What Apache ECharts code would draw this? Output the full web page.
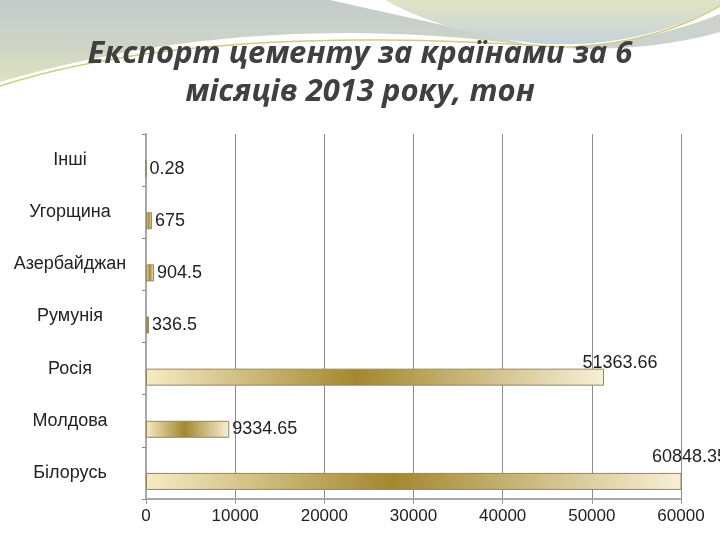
<!DOCTYPE html>
<html>
<head>
<meta charset="utf-8">
<script src="https://cdn.jsdelivr.net/npm/echarts@6/dist/echarts.min.js"></script>
<style>html,body{margin:0;padding:0;background:#fff}#c{width:720px;height:540px}</style>
</head>
<body>
<div id="c"></div>
<script>
// Data (bottom to top as in the chart)
const categories = ['Білорусь', 'Молдова', 'Росія', 'Румунія', 'Азербайджан', 'Угорщина', 'Інші'];
const values = [60848.35, 9334.65, 51363.66, 336.5, 904.5, 675, 0.28];
const valueLabels = ['60848.35', '9334.65', '51363.66', '336.5', '904.5', '675', '0.28'];
const xTicks = [0, 10000, 20000, 30000, 40000, 50000, 60000];
const titleText = 'Експорт цементу за країнами за 6\nмісяців 2013 року, тон';

const chart = echarts.init(document.getElementById('c'), null, {renderer: 'canvas'});

function lin(x0, y0, x1, y1, stops) {
  return {type: 'linear', x: x0, y: y0, x2: x1, y2: y1,
    colorStops: stops.map(s => ({offset: s[0], color: s[1]}))};
}

// decorative background swoosh: sample quadratic curves into polygon points
function quad(p0, c, p1, n) {
  const pts = [];
  for (let i = 0; i <= n; i++) {
    const t = i / n, u = 1 - t;
    pts.push([u * u * p0[0] + 2 * u * t * c[0] + t * t * p1[0],
              u * u * p0[1] + 2 * u * t * c[1] + t * t * p1[1]]);
  }
  return pts;
}
const shapeA = [[0, 0]].concat(quad([330, 0], [430, 22], [535, 46], 20), quad([535, 46], [250, 8], [0, 82], 30));
const shapeB = [[720, 0], [720, 6]].concat(quad([720, 6], [640, 48], [545, 44], 20), quad([545, 44], [450, 36], [385, 0], 20));
const shapeC = quad([560, 48], [650, 42], [720, 14], 20).concat(quad([720, 32], [650, 52], [560, 48], 20));
const lineD = quad([0, 86], [200, 22], [560, 47], 30).concat(quad([560, 47], [650, 46], [720, 6], 20));

const barGradient = lin(0, 0, 1, 0, [[0, '#f6ebc4'], [0.46, '#a3882f'], [1, '#f8f0d6']]);

// labels above the bar end for the two long bars
const aboveLabel = {'Росія': [16, -6], 'Білорусь': [8, -16]};

const realData = values.map((v, i) => {
  const item = {value: v};
  const off = aboveLabel[categories[i]];
  if (off) {
    item.label = {position: ['100%', 0], align: 'center', verticalAlign: 'middle', offset: off};
  }
  return item;
});

const option = {
  animation: false,
  backgroundColor: '#ffffff',
  graphic: [
    {type: 'polygon', silent: true, z: -10, shape: {points: shapeA},
     style: {fill: lin(0, 0, 0, 1, [[0, '#c3cbcb'], [0.6, '#cfd6c6'], [1, '#dde2bd']])}},
    {type: 'polygon', silent: true, z: -10, shape: {points: shapeB},
     style: {fill: lin(0, 0, 0, 1, [[0, '#e1e4c4'], [1, '#c6d2db']])}},
    {type: 'polygon', silent: true, z: -10, shape: {points: shapeC},
     style: {fill: '#ccd3cd'}},
    {type: 'polyline', silent: true, z: -9, shape: {points: lineD},
     style: {stroke: '#cfcc82', lineWidth: 1.5}}
  ],
  title: {
    text: titleText,
    left: 'center',
    top: 30,
    textStyle: {
      fontFamily: 'Open Sans',
      fontStyle: 'italic',
      fontWeight: 'bold',
      fontSize: 31,
      lineHeight: 38,
      color: '#404040'
    }
  },
  grid: {left: 146, right: 39, top: 134, bottom: 41, containLabel: false},
  xAxis: {
    type: 'value',
    min: xTicks[0],
    max: xTicks[xTicks.length - 1],
    interval: xTicks[1] - xTicks[0],
    axisLine: {show: true, lineStyle: {color: '#a8a8a8', width: 2}},
    axisTick: {show: true, length: 5, lineStyle: {color: '#999'}},
    splitLine: {show: true, lineStyle: {color: '#8c8c8c', width: 1}},
    axisLabel: {fontFamily: 'Liberation Sans', fontSize: 17, color: '#222', margin: 9,
      formatter: v => String(v)}
  },
  yAxis: {
    type: 'category',
    data: categories,
    axisLine: {show: true, lineStyle: {color: '#a8a8a8', width: 2}},
    axisTick: {show: true, length: 4, lineStyle: {color: '#888'}},
    splitLine: {show: false},
    axisLabel: {fontFamily: 'Liberation Sans', fontSize: 18, color: '#222', align: 'center', margin: 76}
  },
  series: [
    {
      type: 'bar', name: 'spacer', silent: true,
      data: values.map(() => 0), barWidth: 17, barGap: '0%',
      itemStyle: {color: 'transparent'}, label: {show: false}
    },
    {
      type: 'bar', name: 'Експорт',
      data: realData, barWidth: 17, barGap: '0%',
      itemStyle: {color: barGradient, borderColor: '#938763', borderWidth: 1},
      label: {
        show: true, position: 'right', distance: 3,
        fontFamily: 'Liberation Sans', fontSize: 18, color: '#222',
        formatter: p => valueLabels[p.dataIndex]
      }
    }
  ]
};
chart.setOption(option);
</script>
</body>
</html>
